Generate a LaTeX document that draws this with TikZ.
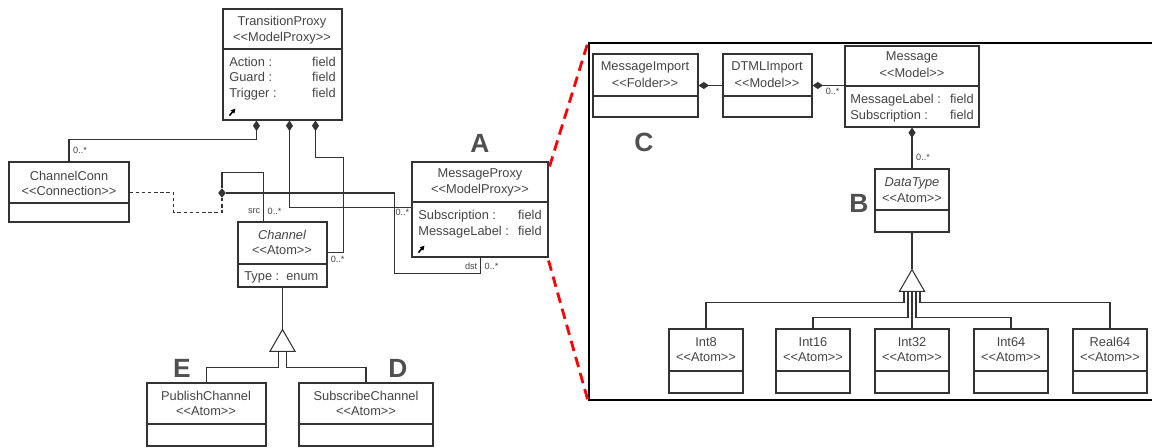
\documentclass[tikz,border=0pt]{standalone}
\usepackage{fontspec}
\setmainfont{Liberation Sans}
\usetikzlibrary{arrows.meta,calc,fit,shapes.geometric}
\definecolor{boxgray}{HTML}{333333}
\definecolor{textgray}{HTML}{444444}
\definecolor{taggray}{HTML}{505050}

\begin{document}
\begin{tikzpicture}[x=0.02cm, y=-0.02cm,
    cls/.style={draw=boxgray, line width=0.6pt, inner sep=0pt},
    txt/.style={font=\fontsize{7.3}{8}\selectfont, text=textgray, inner sep=0pt},
    mult/.style={font=\fontsize{5.2}{6}\selectfont, text=textgray, inner sep=0.5pt},
    tag/.style={font=\bfseries\fontsize{15}{16}\selectfont, text=taggray, inner sep=0pt},
    wire/.style={draw=boxgray, line width=0.6pt},
    comp/.style={wire, -{Diamond[length=6pt,width=4pt]}},
    gen/.style={regular polygon, regular polygon sides=3, draw=boxgray, fill=white, line width=0.6pt, minimum size=0.58cm, inner sep=0pt},
    junc/.style={diamond, fill=boxgray, minimum width=4.5pt, minimum height=5.5pt, inner sep=0pt},
    zoomline/.style={red, line width=1.6pt, dash pattern=on 6pt off 3.5pt},
    icon/.style={-{Triangle[length=2.6pt,width=2.6pt]}, line width=0.9pt}]
    \useasboundingbox (0,0) rectangle (1152,448);

    % TransitionProxy
    \node[cls, fit={(223,9) (342,120)}] (tp) {};
    \draw[wire] (tp.west |- 0,49) -- (tp.east |- 0,49);
    \node[txt] (tpname) at (282,22) {TransitionProxy};
    \node[txt] (tpster) at (282,38) {<{}<ModelProxy>{}>};
    \node[txt, anchor=base west] (tpa1) at (229,66.5) {Action :};
    \node[txt, anchor=base east] (tpf1) at (336,66.5) {field};
    \node[txt, anchor=base west] (tpa2) at (229,82) {Guard :};
    \node[txt, anchor=base east] (tpf2) at (336,82) {field};
    \node[txt, anchor=base west] (tpa3) at (229,97.5) {Trigger :};
    \node[txt, anchor=base east] (tpf3) at (336,97.5) {field};
    \draw[icon] ($(tp.south west)+(7,-5)$) -- ++(6,-7);

    % ChannelConn
    \node[cls, fit={(9,162) (129,222)}] (cc) {};
    \draw[wire] (cc.west |- 0,203) -- (cc.east |- 0,203);
    \node[txt] (ccname) at (69,176) {ChannelConn};
    \node[txt] (ccster) at (69,191) {<{}<Connection>{}>};

    % Channel
    \node[cls, fit={(238,222) (327,287)}] (ch) {};
    \draw[wire] (ch.west |- 0,264) -- (ch.east |- 0,264);
    \node[txt, font=\itshape\fontsize{7.3}{8}\selectfont] (chname) at (282,235) {Channel};
    \node[txt] (chster) at (282,250) {<{}<Atom>{}>};
    \node[txt, anchor=base west] (cha1) at (244,280.5) {Type :};
    \node[txt, anchor=base west] (chf1) at (286,280.5) {enum};

    % MessageProxy
    \node[cls, fit={(412,162) (548,257)}] (mp) {};
    \draw[wire] (mp.west |- 0,202) -- (mp.east |- 0,202);
    \node[txt] (mpname) at (480,174) {MessageProxy};
    \node[txt] (mpster) at (480,190) {<{}<ModelProxy>{}>};
    \node[txt, anchor=base west] (mpa1) at (418,219.5) {Subscription :};
    \node[txt, anchor=base east] (mpf1) at (542,219.5) {field};
    \node[txt, anchor=base west] (mpa2) at (418,235.5) {MessageLabel :};
    \node[txt, anchor=base east] (mpf2) at (542,235.5) {field};
    \draw[icon] ($(mp.south west)+(7,-5)$) -- ++(6,-7);

    % PublishChannel, SubscribeChannel
    \node[cls, fit={(147,383) (266,446)}] (pc) {};
    \draw[wire] (pc.west |- 0,424) -- (pc.east |- 0,424);
    \node[txt] (pcname) at (206,396) {PublishChannel};
    \node[txt] (pcster) at (206,411) {<{}<Atom>{}>};
    \node[cls, fit={(299,383) (433,446)}] (sc) {};
    \draw[wire] (sc.west |- 0,424) -- (sc.east |- 0,424);
    \node[txt] (scname) at (366,396) {SubscribeChannel};
    \node[txt] (scster) at (366,411) {<{}<Atom>{}>};

    % connections, left part
    \draw[comp] (cc.north) -- ++(0,-22) -| ($(tp.south west)+(34,0)$);
    \node[mult, anchor=west] (m1) at ($(cc.north)+(3,-11)$) {0..*};
    \draw[comp] ($(mp.north west)+(0,46)$) -| ($(tp.south west)+(67,0)$);
    \node[mult, anchor=east] (m2) at ($(mp.north west)+(-1,51)$) {0..*};
    \draw[comp] ($(ch.north east)+(0,31)$) -- ++(16,0) |- ($(tp.south west)+(93,37)$) -- ($(tp.south west)+(93,0)$);
    \node[mult, anchor=west] (m3) at ($(ch.north east)+(2,38)$) {0..*};

    \node[junc] (jn) at (222,193) {};
    \draw[wire] ($(ch.north west)+(26,0)$) -- ++(0,-49) -| (jn.north);
    \draw[wire] (jn.east) -| ($(mp.south west)+(-17,16)$) -| ($(mp.south west)+(69,0)$);
    \node[mult, anchor=east] (srclbl) at ($(ch.north west)+(24,-10)$) {src};
    \node[mult, anchor=west] (m4) at ($(ch.north west)+(29,-10)$) {0..*};
    \node[mult, anchor=east] (dstlbl) at ($(mp.south west)+(67,9)$) {dst};
    \node[mult, anchor=west] (m5) at ($(mp.south west)+(72,9)$) {0..*};
    \draw[wire, dash pattern=on 2pt off 1.5pt] ($(cc.north east)+(0,31)$) -- ++(44,0) |- ($(jn.south)+(0,14)$) -- (jn.south);

    \node[gen, anchor=corner 1] (g1) at ($(ch.south)+(0,41)$) {};
    \draw[wire] (ch.south) -- (g1.corner 1);
    \draw[wire] (pc.north) |- ($(g1.side 2)+(-4,16)$) -- ($(g1.side 2)+(-4,0)$);
    \draw[wire] (sc.north) |- ($(g1.side 2)+(4,16)$) -- ($(g1.side 2)+(4,0)$);

    % zoom frame
    \node[draw=black, line width=1.1pt, inner sep=0pt, fit={(589,43) (1170,400)}] (fr) {};
    \draw[zoomline] ($(mp.north east)+(1,5)$) -- (fr.north west);
    \draw[zoomline] ($(mp.south east)+(0,3)$) -- (fr.south west);

    % MessageImport, DTMLImport, Message
    \node[cls, fit={(593,54) (698,117)}] (mi) {};
    \draw[wire] (mi.west |- 0,96) -- (mi.east |- 0,96);
    \node[txt] (miname) at (645,67) {MessageImport};
    \node[txt] (mister) at (645,83) {<{}<Folder>{}>};
    \node[cls, fit={(723,54) (812,117)}] (di) {};
    \draw[wire] (di.west |- 0,96) -- (di.east |- 0,96);
    \node[txt] (diname) at (767,67) {DTMLImport};
    \node[txt] (dister) at (767,83) {<{}<Model>{}>};
    \node[cls, fit={(845,46) (979,127)}] (ms) {};
    \draw[wire] (ms.west |- 0,86) -- (ms.east |- 0,86);
    \node[txt] (msname) at (912,57) {Message};
    \node[txt] (msster) at (912,73) {<{}<Model>{}>};
    \node[txt, anchor=base west] (msa1) at (850,103.5) {MessageLabel :};
    \node[txt, anchor=base east] (msf1) at (974,103.5) {field};
    \node[txt, anchor=base west] (msa2) at (850,119.5) {Subscription :};
    \node[txt, anchor=base east] (msf2) at (974,119.5) {field};

    % DataType
    \node[cls, fit={(875,169) (949,232)}] (dt) {};
    \draw[wire] (dt.west |- 0,210) -- (dt.east |- 0,210);
    \node[txt, font=\itshape\fontsize{7.3}{8}\selectfont] (dtname) at (912,183) {DataType};
    \node[txt] (dtster) at (912,198) {<{}<Atom>{}>};

    % number types
    \node[cls, fit={(669,329) (743,393)}] (i8) {};
    \draw[wire] (i8.west |- 0,371) -- (i8.east |- 0,371);
    \node[txt] (i8name) at (706,342) {Int8};
    \node[txt] (i8ster) at (706,357) {<{}<Atom>{}>};
    \node[cls, fit={(776,329) (850,393)}] (i16) {};
    \draw[wire] (i16.west |- 0,371) -- (i16.east |- 0,371);
    \node[txt] (i16name) at (813,342) {Int16};
    \node[txt] (i16ster) at (813,357) {<{}<Atom>{}>};
    \node[cls, fit={(875,329) (949,393)}] (i32) {};
    \draw[wire] (i32.west |- 0,371) -- (i32.east |- 0,371);
    \node[txt] (i32name) at (912,342) {Int32};
    \node[txt] (i32ster) at (912,357) {<{}<Atom>{}>};
    \node[cls, fit={(974,329) (1048,393)}] (i64) {};
    \draw[wire] (i64.west |- 0,371) -- (i64.east |- 0,371);
    \node[txt] (i64name) at (1011,342) {Int64};
    \node[txt] (i64ster) at (1011,357) {<{}<Atom>{}>};
    \node[cls, fit={(1073,329) (1147,393)}] (r64) {};
    \draw[wire] (r64.west |- 0,371) -- (r64.east |- 0,371);
    \node[txt] (r64name) at (1110,342) {Real64};
    \node[txt] (r64ster) at (1110,357) {<{}<Atom>{}>};

    % connections, right part
    \draw[comp] (di.west) -- (mi.east);
    \draw[comp] (ms.west |- di.east) -- (di.east);
    \node[mult, anchor=west] (m6) at ($(di.east)+(12,6)$) {0..*};
    \draw[comp] (dt.north) -- (dt.north |- ms.south);
    \node[mult, anchor=west] (m7) at ($(dt.north)+(3,-11)$) {0..*};

    \node[gen, anchor=corner 1] (g2) at ($(dt.south)+(0,36)$) {};
    \draw[wire] (dt.south) -- (g2.corner 1);
    \draw[wire] (i8.north) |- ($(g2.side 2)+(-8,11)$) -- ($(g2.side 2)+(-8,0)$);
    \draw[wire] (i16.north) |- ($(g2.side 2)+(-4,26)$) -- ($(g2.side 2)+(-4,0)$);
    \draw[wire] (i32.north) -- (g2.side 2);
    \draw[wire] (i64.north) |- ($(g2.side 2)+(4,26)$) -- ($(g2.side 2)+(4,0)$);
    \draw[wire] (r64.north) |- ($(g2.side 2)+(8,11)$) -- ($(g2.side 2)+(8,0)$);

    % letters
    \node[tag] (tagA) at (480,143) {A};
    \node[tag] (tagB) at (859,203) {B};
    \node[tag] (tagC) at (644,142) {C};
    \node[tag] (tagD) at (398,368) {D};
    \node[tag] (tagE) at (182,368) {E};
\end{tikzpicture}
\end{document}
